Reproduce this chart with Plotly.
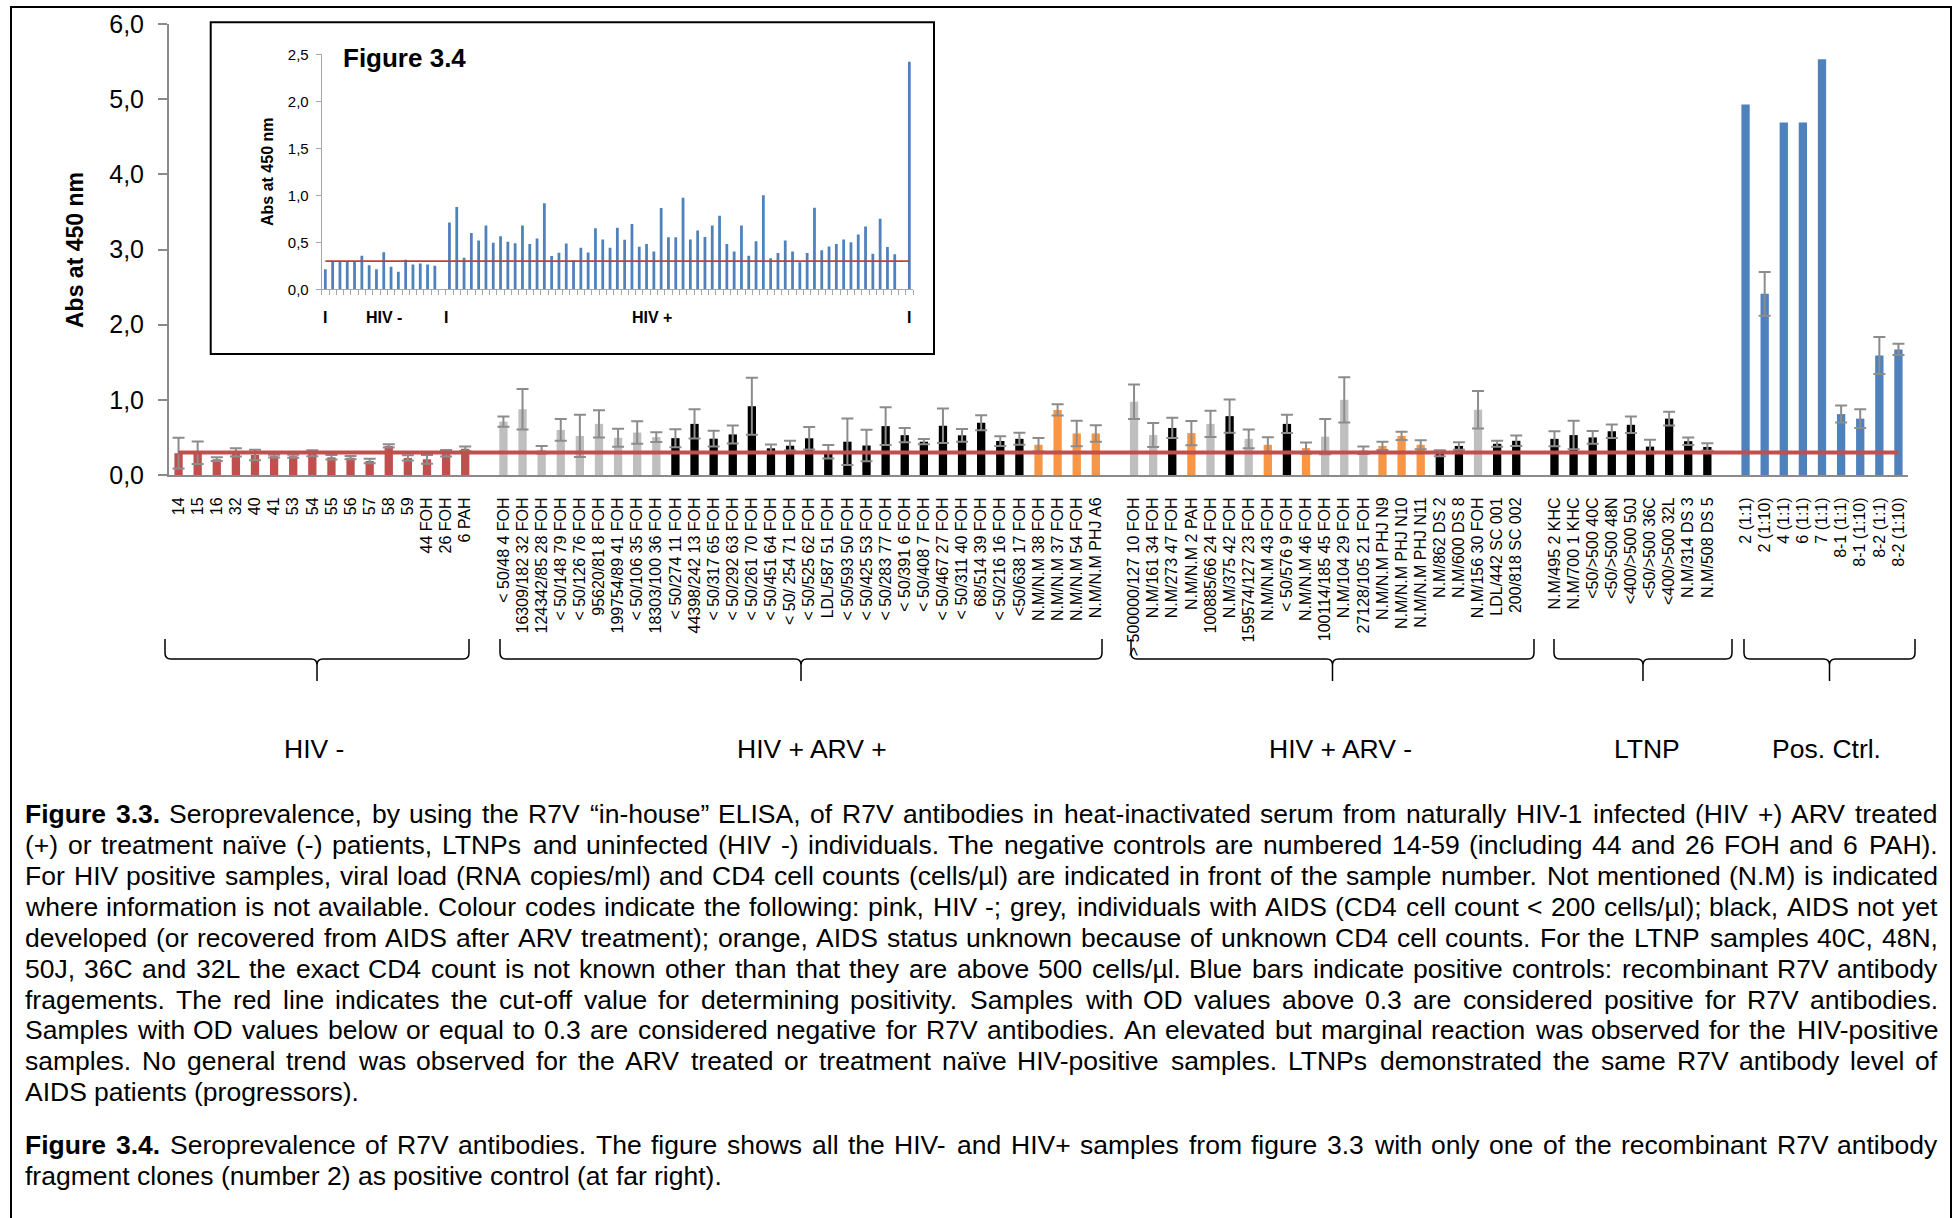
import plotly.graph_objects as go

FONT = "Liberation Sans, Arial, Helvetica, sans-serif"

# ---------------- main panel data (Abs at 450 nm, mean and SD) ----------------
NEG_LABELS = ["14", "15", "16", "32", "40", "41", "53", "54", "55", "56", "57", "58", "59",
              "44 FOH", "26 FOH", "6 PAH"]
NEG_ABS = [0.29, 0.295, 0.21, 0.30, 0.267, 0.25, 0.25, 0.29, 0.235, 0.23, 0.187, 0.387, 0.227,
           0.209, 0.289, 0.349]
NEG_SD = [0.205, 0.15, 0.025, 0.055, 0.07, 0.018, 0.02, 0.04, 0.03, 0.022, 0.03, 0.022, 0.035,
          0.058, 0.044, 0.03]
NEG_STATUS = ["neg"] * 16

ARV_POS_LABELS = ["< 50/48 4 FOH", "16309/182 32 FOH", "124342/85 28 FOH", "< 50/148 79 FOH",
                  "< 50/126 76 FOH", "95620/81 8 FOH", "199754/89 41 FOH", "< 50/106 35 FOH",
                  "18303/100 36 FOH", "< 50/274 11 FOH", "44398/242 13 FOH", "< 50/317 65 FOH",
                  "< 50/292 63 FOH", "< 50/261 70 FOH", "< 50/451 64 FOH", "< 50/ 254 71 FOH",
                  "< 50/525 62 FOH", "LDL/587 51 FOH", "< 50/593 50 FOH", "< 50/425 53 FOH",
                  "< 50/283 77 FOH", "< 50/391 6 FOH", "< 50/408 7 FOH", "< 50/467 27 FOH",
                  "< 50/311 40 FOH", "68/514 39 FOH", "< 50/216 16 FOH", "<50/638 17 FOH",
                  "N.M/N.M 38 FOH", "N.M/N.M 37 FOH", "N.M/N.M 54 FOH", "N.M/N.M PHJ A6"]
ARV_POS_ABS = [0.71, 0.875, 0.335, 0.60, 0.52, 0.68, 0.495, 0.565, 0.505, 0.49, 0.68, 0.483,
               0.54, 0.915, 0.355, 0.39, 0.488, 0.31, 0.443, 0.392, 0.65, 0.53, 0.443, 0.655,
               0.528, 0.695, 0.452, 0.481, 0.402, 0.865, 0.553, 0.553]
ARV_POS_SD = [0.067, 0.27, 0.05, 0.145, 0.28, 0.18, 0.12, 0.15, 0.065, 0.12, 0.195, 0.105,
              0.12, 0.38, 0.05, 0.065, 0.15, 0.09, 0.31, 0.21, 0.25, 0.095, 0.035, 0.23,
              0.085, 0.10, 0.065, 0.08, 0.09, 0.075, 0.17, 0.11]
ARV_POS_STATUS = ["aids"] * 9 + ["no_aids"] * 19 + ["unknown"] * 4

ARV_NEG_LABELS = ["> 500000/127 10 FOH", "N.M/161 34 FOH", "N.M/273 47 FOH", "N.M/N.M 2 PAH",
                  "100885/66 24 FOH", "N.M/375 42 FOH", "159574/127 23 FOH", "N.M/N.M 43 FOH",
                  "< 50/576 9 FOH", "N.M/N.M 46 FOH", "100114/185 45 FOH", "N.M/104 29 FOH",
                  "27128/105 21 FOH", "N.M/N.M PHJ N9", "N.M/N.M PHJ N10", "N.M/N.M PHJ N11",
                  "N.M/862 DS 2", "N.M/600 DS 8", "N.M/156 30 FOH", "LDL/442 SC 001",
                  "200/818 SC 002"]
ARV_NEG_ABS = [0.975, 0.531, 0.626, 0.557, 0.68, 0.783, 0.481, 0.402, 0.68, 0.358, 0.51, 1.0,
               0.33, 0.386, 0.52, 0.402, 0.288, 0.387, 0.868, 0.415, 0.455]
ARV_NEG_SD = [0.23, 0.16, 0.135, 0.16, 0.175, 0.22, 0.125, 0.10, 0.12, 0.075, 0.235, 0.30,
              0.05, 0.055, 0.055, 0.06, 0.04, 0.05, 0.25, 0.04, 0.07]
ARV_NEG_STATUS = ["aids", "aids", "no_aids", "unknown", "aids", "no_aids", "aids", "unknown",
                  "no_aids", "unknown", "aids", "aids", "aids", "unknown", "unknown", "unknown",
                  "no_aids", "no_aids", "aids", "no_aids", "no_aids"]

LTNP_LABELS = ["N.M/495 2 KHC", "N.M/700 1 KHC", "<50/>500 40C", "<50/>500 48N", "<400/>500 50J",
               "<50/>500 36C", "<400/>500 32L", "N.M/314 DS 3", "N.M/508 DS 5"]
LTNP_ABS = [0.481, 0.531, 0.50, 0.582, 0.668, 0.378, 0.75, 0.45, 0.373]
LTNP_SD = [0.10, 0.19, 0.085, 0.09, 0.11, 0.09, 0.09, 0.05, 0.05]
LTNP_STATUS = ["no_aids"] * 9

CTRL_LABELS = ["2 (1:1)", "2 (1:10)", "4 (1:1)", "6 (1:1)", "7 (1:1)", "8-1 (1:1)", "8-1 (1:10)",
               "8-2 (1:1)", "8-2 (1:10)"]
CTRL_ABS = [4.93, 2.41, 4.69, 4.69, 5.53, 0.81, 0.75, 1.59, 1.67]
CTRL_SD = [None, 0.29, None, None, None, 0.113, 0.125, 0.245, 0.075]
CTRL_STATUS = ["ctrl"] * 9

GROUP_NAMES = ["HIV -", "HIV + ARV +", "HIV + ARV -", "LTNP", "Pos. Ctrl."]
CUTOFF = 0.3

# ---------------- inset (Figure 3.4) data ----------------
INSET_NEG_ABS = [0.214, 0.29, 0.29, 0.29, 0.29, 0.357, 0.257, 0.214, 0.393, 0.24, 0.186, 0.314,
                 0.264, 0.275, 0.264, 0.25]
INSET_POS_ABS = ARV_POS_ABS + ARV_NEG_ABS + LTNP_ABS
INSET_CTRL_ABS = [2.42]

# ---------------- styling ----------------
STATUS_COLORS = {"neg": "#C0504D", "aids": "#BFBFBF", "no_aids": "#000000",
                 "unknown": "#F79646", "ctrl": "#4F81BD"}
AXIS_GREY = "#8A8A8A"
ERR_GREY = "#8C8C8C"
RED_LINE = "#C0504D"
BLUE = "#4F81BD"

W, H = 1954, 1218
PLOT_L, PLOT_R, PLOT_T, PLOT_B = 169, 1908, 24, 475


def fx(px):
    return (px - PLOT_L) / (PLOT_R - PLOT_L)


def fy(py):
    return (PLOT_B - py) / (PLOT_B - PLOT_T)


# ---------------- main slot positions (one blank slot between groups) ----------------
groups = [
    (NEG_LABELS, NEG_ABS, NEG_SD, NEG_STATUS),
    (ARV_POS_LABELS, ARV_POS_ABS, ARV_POS_SD, ARV_POS_STATUS),
    (ARV_NEG_LABELS, ARV_NEG_ABS, ARV_NEG_SD, ARV_NEG_STATUS),
    (LTNP_LABELS, LTNP_ABS, LTNP_SD, LTNP_STATUS),
    (CTRL_LABELS, CTRL_ABS, CTRL_SD, CTRL_STATUS),
]
tick_pos, tick_text = [], []
with_err = {"x": [], "y": [], "e": [], "c": []}
no_err = {"x": [], "y": [], "c": []}
slot = 0
for gi, (labels, vals, sds, stats) in enumerate(groups):
    if gi > 0:
        slot += 1
    for lab, v, s, st in zip(labels, vals, sds, stats):
        tick_pos.append(slot)
        tick_text.append(lab)
        if s is None:
            no_err["x"].append(slot)
            no_err["y"].append(v)
            no_err["c"].append(STATUS_COLORS[st])
        else:
            with_err["x"].append(slot)
            with_err["y"].append(v)
            with_err["e"].append(s)
            with_err["c"].append(STATUS_COLORS[st])
        slot += 1
n_main = slot

# inset slot positions
inset_x, inset_y = [], []
pos = 0
for gi, vals in enumerate([INSET_NEG_ABS, INSET_POS_ABS, INSET_CTRL_ABS]):
    if gi > 0:
        pos += 1
    for v in vals:
        inset_x.append(pos)
        inset_y.append(v)
        pos += 1
n_inset = pos

fig = go.Figure()
fig.add_trace(go.Bar(
    x=with_err["x"], y=with_err["y"], width=0.435,
    marker=dict(color=with_err["c"], line=dict(width=0)),
    error_y=dict(type="data", array=with_err["e"], visible=True, color=ERR_GREY,
                 thickness=2, width=6),
    hoverinfo="y",
))
fig.add_trace(go.Bar(
    x=no_err["x"], y=no_err["y"], width=0.435,
    marker=dict(color=no_err["c"], line=dict(width=0)),
    hoverinfo="y",
))
fig.add_trace(go.Scatter(
    x=[tick_pos[0], tick_pos[-1]], y=[CUTOFF, CUTOFF], mode="lines",
    line=dict(color=RED_LINE, width=4), hoverinfo="skip",
))
# inset traces
fig.add_trace(go.Bar(
    x=inset_x, y=inset_y, width=0.38, xaxis="x2", yaxis="y2",
    marker=dict(color=BLUE, line=dict(width=0)), hoverinfo="y",
))
fig.add_trace(go.Scatter(
    x=[inset_x[0], inset_x[-1]], y=[CUTOFF, CUTOFF], mode="lines", xaxis="x2", yaxis="y2",
    line=dict(color="#B5433F", width=1.8), hoverinfo="skip",
))

# ---------------- annotations ----------------
ann = []
ann.append(dict(text="<b>Abs at 450 nm</b>", x=fx(75), y=fy(250), xref="paper", yref="paper",
                xanchor="center", yanchor="middle",
                textangle=-90, showarrow=False, font=dict(size=23, family=FONT, color="black")))

group_centers_px = [314, 812, 1340, 1647, 1826]
for name, cx in zip(GROUP_NAMES, group_centers_px):
    ann.append(dict(text=name, x=fx(cx), y=fy(749), xref="paper", yref="paper",
                    xanchor="center", yanchor="middle",
                    showarrow=False, font=dict(size=26.5, family=FONT, color="black")))

# inset labels
ann.append(dict(text="<b>Figure 3.4</b>", x=fx(341), y=fy(58), xref="paper", yref="paper",
                xanchor="left", yanchor="middle", showarrow=False,
                font=dict(size=26, family=FONT, color="black")))
ann.append(dict(text="<b>Abs at 450 nm</b>", x=fx(267), y=fy(172), xref="paper", yref="paper",
                xanchor="center", yanchor="middle",
                textangle=-90, showarrow=False, font=dict(size=16, family=FONT, color="black")))
for txt, xv in [("I", 0), ("HIV -", 8), ("I", 16.5), ("HIV +", 44.8), ("I", n_inset - 1)]:
    ann.append(dict(text="<b>%s</b>" % txt, x=xv, y=fy(317), xref="x2", yref="paper",
                    xanchor="center", yanchor="middle",
                    showarrow=False, font=dict(size=16, family=FONT, color="black")))

# ---------------- caption with justified lines ----------------
_W = [278, 278, 355, 556, 556, 889, 667, 191, 333, 333, 389, 584, 278, 333, 278, 278,
      556, 556, 556, 556, 556, 556, 556, 556, 556, 556,
      278, 278, 584, 584, 584, 556, 1015,
      667, 667, 722, 722, 667, 611, 778, 722, 278, 500, 667, 556, 833, 722, 778, 667, 778,
      722, 667, 611, 722, 667, 944, 667, 667, 611,
      278, 278, 278, 469, 556, 333,
      556, 556, 500, 556, 556, 278, 556, 556, 222, 222, 500, 222, 833, 556, 556, 556, 556,
      333, 500, 278, 556, 500, 722, 500, 500, 500,
      334, 260, 334, 584]
REG_W = {chr(c): w for c, w in zip(range(32, 127), _W)}
REG_W.update({"\u201c": 333, "\u201d": 333, "\u00ef": 278, "\u00b5": 556})
BOLD_W = dict(REG_W)
BOLD_W.update({"F": 611, "i": 278, "g": 611, "u": 611, "r": 389, "e": 556, ".": 278})


def text_w(s, size, bold=False):
    table = BOLD_W if bold else REG_W
    return sum(table.get(ch, 556) for ch in s) * size / 1000.0


CAPTION_33 = [
    "Figure 3.3. Seroprevalence, by using the R7V \u201cin-house\u201d ELISA, of R7V antibodies in heat-inactivated serum from naturally HIV-1 infected (HIV +) ARV treated",
    "(+) or treatment na\u00efve (-) patients, LTNPs and uninfected (HIV -) individuals. The negative controls are numbered 14-59 (including 44 and 26 FOH and 6 PAH).",
    "For HIV positive samples, viral load (RNA copies/ml) and CD4 cell counts (cells/\u00b5l) are indicated in front of the sample number. Not mentioned (N.M) is indicated",
    "where information is not available. Colour codes indicate the following: pink, HIV -; grey, individuals with AIDS (CD4 cell count < 200 cells/\u00b5l); black, AIDS not yet",
    "developed (or recovered from AIDS after ARV treatment); orange, AIDS status unknown because of unknown CD4 cell counts. For the LTNP samples 40C, 48N,",
    "50J, 36C and 32L the exact CD4 count is not known other than that they are above 500 cells/\u00b5l. Blue bars indicate positive controls: recombinant R7V antibody",
    "fragements. The red line indicates the cut-off value for determining positivity. Samples with OD values above 0.3 are considered positive for R7V antibodies.",
    "Samples with OD values below or equal to 0.3 are considered negative for R7V antibodies. An elevated but marginal reaction was observed for the HIV-positive",
    "samples. No general trend was observed for the ARV treated or treatment na\u00efve HIV-positive samples. LTNPs demonstrated the same R7V antibody level of",
    "AIDS patients (progressors).",
]
CAPTION_34 = [
    "Figure 3.4. Seroprevalence of R7V antibodies. The figure shows all the HIV- and HIV+ samples from figure 3.3 with only one of the recombinant R7V antibody",
    "fragment clones (number 2) as positive control (at far right).",
]
CAP_SIZE = 26.5
CAP_X0, CAP_X1 = 25, 1938
cap_lines = []
for i, line in enumerate(CAPTION_33):
    cap_lines.append((line, 813.8 + i * 30.95, i == 0, i < len(CAPTION_33) - 1))
for i, line in enumerate(CAPTION_34):
    cap_lines.append((line, 1145.3 + i * 31.1, i == 0, i < len(CAPTION_34) - 1))

for line, yc, first, justify in cap_lines:
    words = line.split(" ")
    bold_flags = [first and k < 2 for k in range(len(words))]
    widths = [text_w(w, CAP_SIZE, b) for w, b in zip(words, bold_flags)]
    space = REG_W[" "] * CAP_SIZE / 1000.0
    gap = (CAP_X1 - CAP_X0 - sum(widths)) / (len(words) - 1) if justify else space
    gap = max(gap, space * 0.8)
    xpos = CAP_X0
    for k, (wd, b, wdt) in enumerate(zip(words, bold_flags, widths)):
        txt = "<b>%s</b>" % wd if b else wd
        last = justify and k == len(words) - 1
        ann.append(dict(text=txt, x=fx(CAP_X1 if last else xpos), y=fy(yc),
                        xref="paper", yref="paper", xanchor="right" if last else "left",
                        yanchor="middle", showarrow=False, borderpad=0, borderwidth=0,
                        font=dict(size=CAP_SIZE, family=FONT, color="black")))
        xpos += wdt + gap

# ---------------- shapes: frame, inset box, group braces ----------------
shapes = []
shapes.append(dict(type="rect", xref="paper", yref="paper", x0=fx(11), x1=fx(1951),
                   y0=fy(7), y1=fy(1240), line=dict(color="black", width=2)))
shapes.append(dict(type="rect", xref="paper", yref="paper", x0=fx(210.7), x1=fx(934),
                   y0=fy(22.3), y1=fy(354), line=dict(color="black", width=2),
                   fillcolor="rgba(0,0,0,0)", layer="below"))

BRACE_SPANS_PX = [(165, 469), (500, 1102), (1131, 1534), (1554, 1732), (1744, 1915)]


def brace(x0, x1, ytop=639, ymid=659, ybot=681, r=6):
    m = (x0 + x1) / 2.0

    def p(a, b):
        return "%.5f,%.5f" % (fx(a), fy(b))
    return ("M " + p(x0, ytop) + " L " + p(x0, ymid - r) + " Q " + p(x0, ymid) + " " + p(x0 + r, ymid)
            + " L " + p(m - r, ymid) + " Q " + p(m, ymid) + " " + p(m, ymid + r)
            + " L " + p(m, ybot)
            + " M " + p(m, ymid + r) + " Q " + p(m, ymid) + " " + p(m + r, ymid)
            + " L " + p(x1 - r, ymid) + " Q " + p(x1, ymid) + " " + p(x1, ymid - r)
            + " L " + p(x1, ytop))


for a, b in BRACE_SPANS_PX:
    shapes.append(dict(type="path", xref="paper", yref="paper", path=brace(a, b),
                       line=dict(color="black", width=1.5)))

x_range = [-0.5, n_main - 0.5]
fig.update_layout(
    width=W, height=H, autosize=False,
    margin=dict(l=PLOT_L, r=W - PLOT_R, t=PLOT_T, b=H - PLOT_B, autoexpand=False),
    paper_bgcolor="white", plot_bgcolor="white",
    showlegend=False, barmode="overlay", separators=",.",
    font=dict(family=FONT, color="black"),
    xaxis=dict(range=x_range, tickmode="array", tickvals=tick_pos, ticktext=tick_text,
               ticks="", ticklen=0, showline=True, linecolor=AXIS_GREY, linewidth=2,
               showgrid=False, zeroline=False,
               tickangle=-90, tickfont=dict(size=16, family=FONT, color="black"),
               ticklabelstandoff=14, automargin=False, fixedrange=True),
    # boundary ticks between the sample slots
    xaxis3=dict(range=x_range, overlaying="x", anchor="y", side="bottom",
                tickmode="array", tickvals=[k - 0.5 for k in range(n_main + 1)],
                showticklabels=False, ticks="outside", ticklen=5, tickwidth=1.5,
                tickcolor=AXIS_GREY, showline=False, showgrid=False, zeroline=False,
                automargin=False, fixedrange=True),
    yaxis=dict(range=[0, 6], dtick=1, tickformat=".1f", ticks="outside", ticklen=9,
               tickwidth=2, tickcolor=AXIS_GREY, showline=True, linecolor=AXIS_GREY,
               linewidth=2, showgrid=False, zeroline=False,
               tickfont=dict(size=25, family=FONT, color="black"),
               ticklabelstandoff=9, automargin=False, fixedrange=True),
    xaxis2=dict(domain=[fx(321.7), fx(913)], anchor="y2", range=[-0.5, n_inset - 0.5],
                tickmode="array", tickvals=[k - 0.5 for k in range(n_inset + 1)],
                showticklabels=False, ticks="outside", ticklen=5, tickwidth=1,
                tickcolor="#A6A6A6", showline=True, linecolor="#A6A6A6", linewidth=1,
                showgrid=False, zeroline=False, automargin=False, fixedrange=True),
    yaxis2=dict(domain=[fy(289.3), fy(54.3)], anchor="x2", range=[0, 2.5], dtick=0.5,
                tickformat=".1f", ticks="outside", ticklen=5, tickwidth=1,
                tickcolor="#A6A6A6", showline=True, linecolor="#A6A6A6", linewidth=1,
                showgrid=False, zeroline=False,
                tickfont=dict(size=15, family=FONT, color="black"),
                ticklabelstandoff=4, automargin=False, fixedrange=True),
    annotations=ann,
    shapes=shapes,
)

fig.write_html("out.html")
